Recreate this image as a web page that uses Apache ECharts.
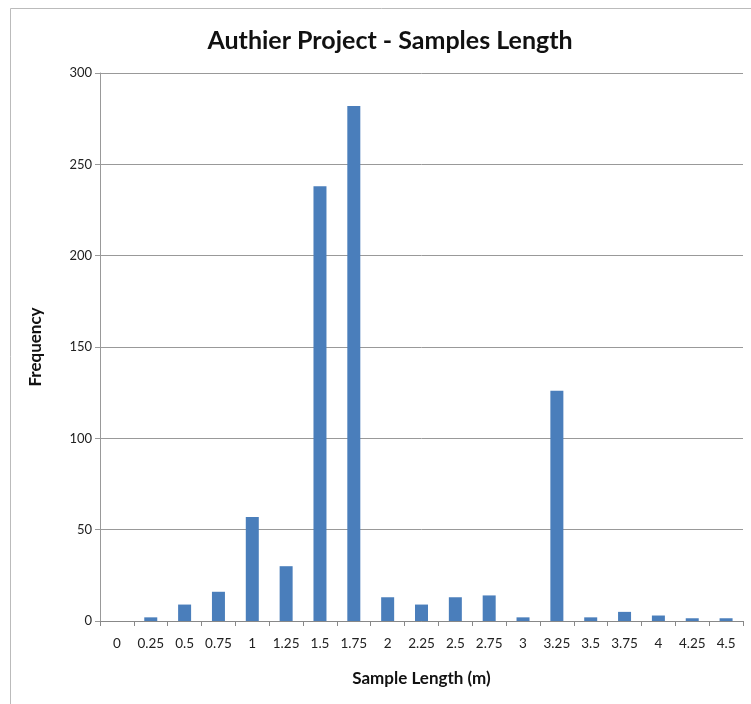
<!DOCTYPE html>
<html><head><meta charset="utf-8">
<script src="https://cdn.jsdelivr.net/npm/echarts@6/dist/echarts.min.js"></script>
<style>html,body{margin:0;padding:0;background:#fff}#c{width:751px;height:704px}</style>
</head><body><div id="c"></div>
<script>
const categories = ['0','0.25','0.5','0.75','1','1.25','1.5','1.75','2','2.25','2.5','2.75','3','3.25','3.5','3.75','4','4.25','4.5'];
const frequency = [0,2,9,16,57,30,238,282,13,9,13,14,2,126,2,5,3,1.5,1.5];
const yTicks = [0,50,100,150,200,250,300];

const chart = echarts.init(document.getElementById('c'), null, {renderer:'canvas'});
chart.setOption({
  animation:false,
  backgroundColor:'#fff',
  title:{text:'Authier Project - Samples Length',left:385,top:23,textAlign:'center',
    textStyle:{fontFamily:'Lato',fontWeight:'bold',fontSize:25,color:'#111'}},
  graphic:[{type:'rect',shape:{x:10.5,y:8.5,width:760,height:720},style:{fill:'none',stroke:'#bbb',lineWidth:1}}],
  grid:{left:100,right:8,top:73,bottom:83},
  xAxis:{type:'category',data:categories,name:'Sample Length (m)',nameLocation:'middle',nameGap:49,
    nameTextStyle:{fontFamily:'Lato',fontWeight:'bold',fontSize:17,color:'#111'},
    axisLine:{lineStyle:{color:'#888'}},axisTick:{show:true,length:5,interval:0,lineStyle:{color:'#888'}},
    axisLabel:{fontFamily:'Lato',fontSize:13.5,color:'#222',margin:16,interval:0,hideOverlap:false}},
  yAxis:{type:'value',min:0,max:300,interval:50,name:'Frequency',nameLocation:'middle',nameGap:56,
    nameTextStyle:{fontFamily:'Lato',fontWeight:'bold',fontSize:17,color:'#111'},
    axisLine:{show:true,lineStyle:{color:'#999'}},axisTick:{show:true,length:5,lineStyle:{color:'#999'}},
    axisLabel:{fontFamily:'Lato',fontSize:13,color:'#222',margin:8,
      formatter:v=>yTicks.includes(v)?String(v):''},
    splitLine:{lineStyle:{color:'#999',width:1}}},
  series:[{type:'bar',data:frequency,barWidth:13,itemStyle:{color:'#4a7ebb'}}]
});
</script></body></html>
